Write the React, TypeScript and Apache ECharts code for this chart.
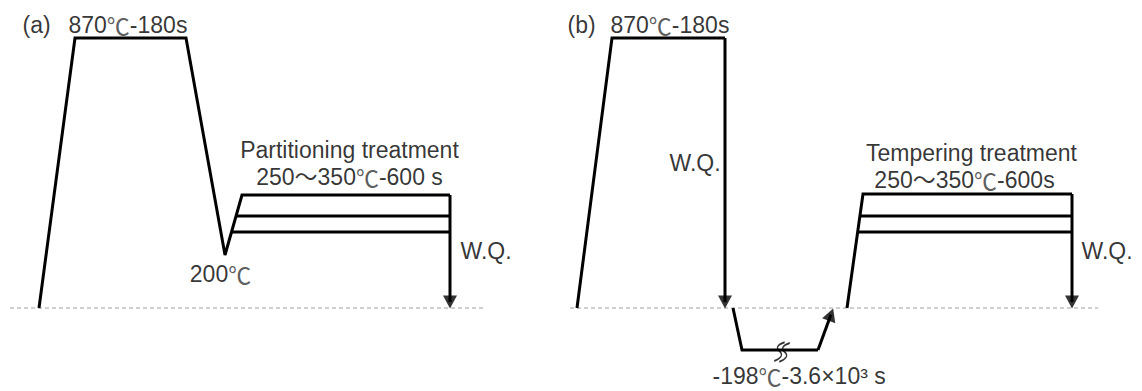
import React, { useEffect, useRef } from "react";
import * as echarts from "echarts";

// Schematic coordinates: x = time position, y = temperature level above the room-temperature baseline
// (a) Q&P-type treatment
const aCycleX = [39, 75, 186, 225, 242, 450];
const aCycleY = [0, 270, 270, 53, 113, 113];
const aHoldStartX = [237, 232];
const aHoldEndX = [450, 450];
const aHoldY = [92, 76];
const aBaseX = [10, 484];

// (b) sub-zero + tempering treatment
const bHeatX = [577, 612, 725];
const bHeatY = [0, 270, 270];
const bSubZeroX = [733, 742, 818];
const bSubZeroY = [0, -42, -42];
const bTemperX = [847, 863, 1072];
const bTemperY = [0, 114, 114];
const bHoldStartX = [860, 857];
const bHoldEndX = [1072, 1072];
const bHoldY = [92, 76];
const bBaseX = [570, 1098];

// arrows: [fromX, fromY, toX, toY]
const arrows = [
  [450, 113, 450, 0],
  [725, 270, 725, 0],
  [818, -42, 833, -1],
  [1072, 114, 1072, 0],
];
const breakMark = [782, -44];

// annotations
const labelTexts = [
  "(a)",
  "870℃-180s",
  "Partitioning treatment",
  "250～350℃-600 s",
  "200℃",
  "W.Q.",
  "(b)",
  "870℃-180s",
  "W.Q.",
  "Tempering treatment",
  "250～350℃-600s",
  "W.Q.",
  "-198℃-3.6×10³ s",
];
const labelX = [23, 69, 350, 350, 221, 461, 568, 611, 670, 972, 965, 1082, 713];
const labelY = [283, 283, 158, 131, 34, 57, 283, 283, 145, 155, 128, 57, -68];
const labelAlign = ["left", "left", "center", "center", "center", "left", "left", "left", "left", "center", "center", "left", "left"];

const FONT = "'Liberation Sans', Arial, 'Noto Sans CJK JP', sans-serif";
const FS = 23;
const LH = 23;

export default function App() {
  const ref = useRef<HTMLDivElement>(null);
  useEffect(() => {
    document.body.style.margin = "0";
    const chart = echarts.init(ref.current!, null, { renderer: "svg" });
    const solid = { color: "#000", width: 3, join: "miter" as const, cap: "butt" as const };
    const lineSeries = (pts: number[][], style: any = solid) => ({
      type: "line",
      data: pts,
      symbol: "none",
      lineStyle: style,
      silent: true,
      z: 3,
    });
    const series: any[] = [];
    const dashed = { color: "#a0a0a0", width: 1, type: [4, 3] };
    series.push(lineSeries([[aBaseX[0], 0], [aBaseX[1], 0]], dashed));
    series.push(lineSeries([[bBaseX[0], 0], [bBaseX[1], 0]], dashed));
    series.push(lineSeries(aCycleX.map((x, i) => [x, aCycleY[i]])));
    aHoldY.forEach((y, i) => series.push(lineSeries([[aHoldStartX[i], y], [aHoldEndX[i], y]])));
    series.push(lineSeries(bHeatX.map((x, i) => [x, bHeatY[i]])));
    series.push(lineSeries(bSubZeroX.map((x, i) => [x, bSubZeroY[i]])));
    series.push(lineSeries(bTemperX.map((x, i) => [x, bTemperY[i]])));
    bHoldY.forEach((y, i) => series.push(lineSeries([[bHoldStartX[i], y], [bHoldEndX[i], y]])));

    const head = 6;
    const heads: any[] = [];
    arrows.forEach(([x0, y0, x1, y1]) => {
      const dx = x1 - x0;
      const dy = y1 - y0;
      const len = Math.hypot(dx, dy);
      const cx = x1 - (head * dx) / len;
      const cy = y1 - (head * dy) / len;
      series.push(lineSeries([[x0, y0], [cx, cy]]));
      heads.push({
        value: [cx, cy],
        symbolRotate: (Math.atan2(-dx, dy) * 180) / Math.PI,
      });
    });
    series.push({
      type: "scatter",
      data: heads,
      symbol: "triangle",
      symbolSize: [14, 13],
      itemStyle: { color: "#000" },
      silent: true,
      z: 4,
    });
    series.push({
      type: "scatter",
      data: [breakMark],
      symbol: "path://M9,0 Q1,6 6,11 Q11,16 3,23 M13,0 Q5,6 10,11 Q15,16 7,23",
      symbolSize: [13, 20],
      symbolRotate: -8,
      itemStyle: { color: "transparent", borderColor: "#000", borderWidth: 1.6 },
      silent: true,
      z: 5,
    });
    series.push({
      type: "scatter",
      data: labelTexts.map((t, i) => ({
        value: [labelX[i], labelY[i]],
        name: t,
        label: { align: labelAlign[i] },
      })),
      symbolSize: 1,
      itemStyle: { color: "transparent" },
      label: {
        show: true,
        position: [0, 0],
        verticalAlign: "middle",
        formatter: (p: any) => p.name.replace(/℃/g, "{c|℃}"),
        fontFamily: FONT,
        fontSize: FS,
        lineHeight: LH,
        color: "#000",
        rich: {
          c: { fontFamily: "'Noto Sans CJK JP'", fontSize: FS, lineHeight: LH, color: "#333" },
        },
      },
      silent: true,
      z: 6,
    });

    chart.setOption({
      animation: false,
      backgroundColor: "#fff",
      grid: { left: 0, right: 0, top: 0, bottom: 0 },
      xAxis: { type: "value", min: 0, max: 1142, show: false },
      yAxis: { type: "value", min: -83, max: 308, show: false },
      series,
    });
    return () => chart.dispose();
  }, []);
  return <div ref={ref} style={{ width: 1142, height: 391 }} />;
}
